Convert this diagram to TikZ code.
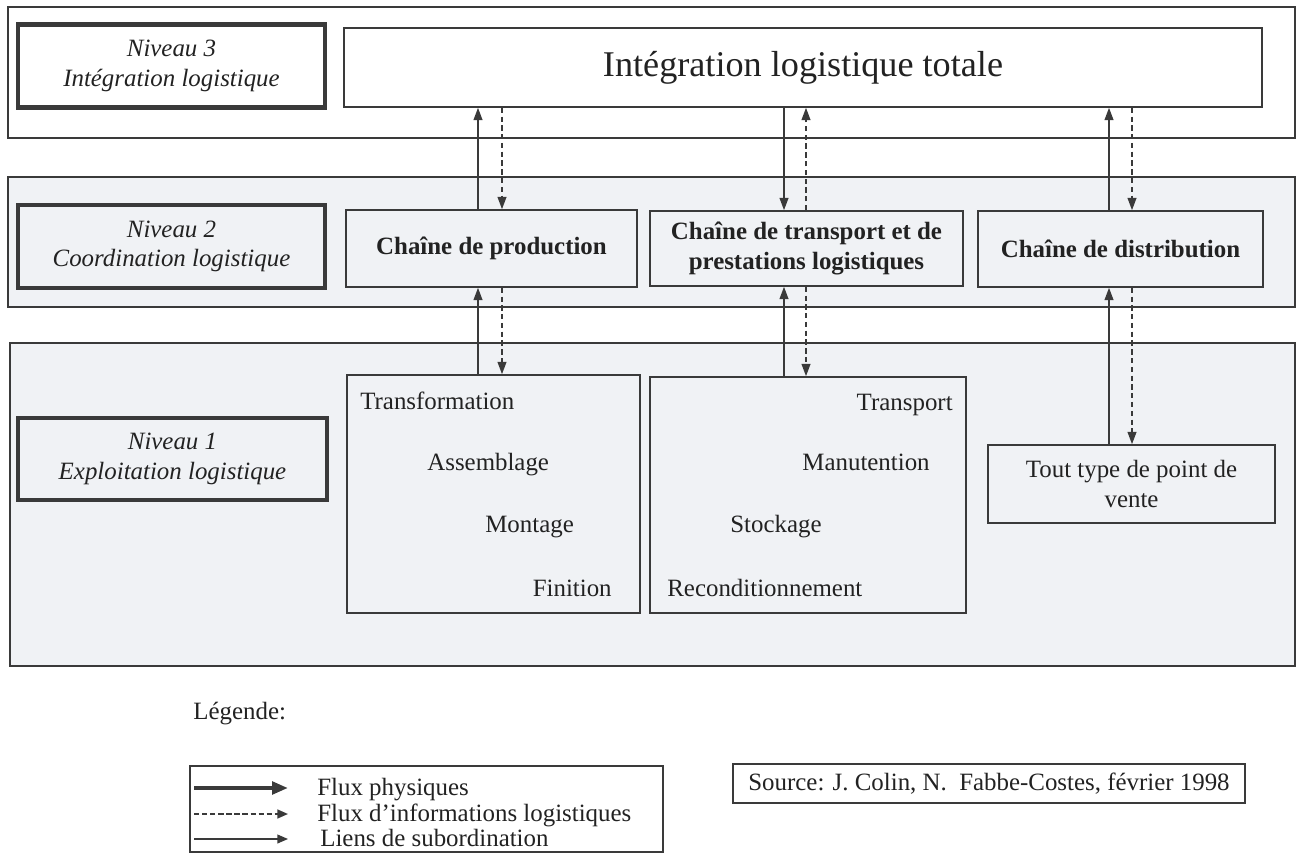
\documentclass[tikz,border=0pt]{standalone}
\usepackage{fontspec}
\setmainfont{Liberation Serif}
\usetikzlibrary{arrows.meta,fit}
\definecolor{bandfill}{HTML}{F0F2F5}
\definecolor{ink}{HTML}{222222}
\definecolor{lineg}{HTML}{3A3A3A}
\begin{document}
\begin{tikzpicture}[x=0.02cm,y=-0.02cm,
  font=\fontsize{14.17}{16.8}\selectfont, text=ink,
  band/.style={draw=lineg, line width=1pt, inner sep=0pt},
  lvl/.style={draw=lineg, line width=2.6pt, inner sep=0pt, align=center,
    font=\itshape\fontsize{14.17}{16.8}\selectfont},
  boxw/.style={draw=lineg, line width=0.9pt, inner sep=0pt, align=center},
  chain/.style={boxw, fill=bandfill, font=\bfseries\fontsize{14.17}{16.8}\selectfont},
  phys/.style={draw=lineg, line width=0.9pt, -{Triangle[length=7pt,width=5pt]}},
  info/.style={draw=lineg, line width=0.9pt, dash pattern=on 3pt off 2pt, -{Triangle[length=7pt,width=5pt]}},
  optxt/.style={inner sep=0pt}
]
\useasboundingbox (0,0) rectangle (1298,854);
% bands
\node[band, fit={(8,7) (1295,138)}] (band3) {};
\node[band, fill=bandfill, fit={(8,177) (1295,307)}] (band2) {};
\node[band, fill=bandfill, fit={(10,343) (1295,666)}] (band1) {};
% level labels
\node[lvl, fill=white, minimum width=6.14cm, minimum height=1.66cm] (niv3) at (171.5,66) {Niveau 3\\Intégration logistique};
\node[lvl, fill=bandfill, minimum width=6.14cm, minimum height=1.66cm] (niv2) at (171.5,246.5) {Niveau 2\\Coordination logistique};
\node[lvl, fill=bandfill, minimum width=6.18cm, minimum height=1.64cm] (niv1) at (172.5,459) {Niveau 1\\Exploitation logistique};
% level 3
\node[boxw, fill=white, minimum width=18.36cm, minimum height=1.58cm, font=\fontsize{20.6}{24}\selectfont] (integ) at (803,67.5) {Intégration logistique totale};
% level 2
\node[chain, minimum width=5.82cm, minimum height=1.54cm] (prod) at (491.5,248.5) {Chaîne de production};
\node[chain, minimum width=6.26cm, minimum height=1.50cm] (trans) at (806.5,248.5) {Chaîne de transport et de\\prestations logistiques};
\node[chain, minimum width=5.70cm, minimum height=1.52cm] (distr) at (1120.5,249) {Chaîne de distribution};
% level 1
\node[boxw, fill=bandfill, fit={(347,375) (640,613)}] (boxA) {};
\node[boxw, fill=bandfill, fit={(650,377) (966,613)}] (boxB) {};
\node[boxw, fill=bandfill, minimum width=5.74cm, minimum height=1.56cm] (pv) at (1131.5,484) {Tout type de point de\\vente};
\node[optxt, anchor=base west] (t1) at (360,410) {Transformation};
\node[optxt, anchor=base west] (t2) at (427,471) {Assemblage};
\node[optxt, anchor=base west] (t3) at (485,533) {Montage};
\node[optxt, anchor=base east] (t4) at (612,596) {Finition};
\node[optxt, anchor=base east] (u1) at (953,411) {Transport};
\node[optxt, anchor=base east] (u2) at (930,471) {Manutention};
\node[optxt, anchor=base west] (u3) at (730,533) {Stockage};
\node[optxt, anchor=base west] (u4) at (667,596) {Reconditionnement};
% arrow columns
\coordinate (a1) at (478,0);
\coordinate (a2) at (502,0);
\coordinate (b1) at (784,0);
\coordinate (b2) at (806,0);
\coordinate (c1) at (1109,0);
\coordinate (c2) at (1132,0);
% level 2 <-> level 3
\draw[phys] (prod.north -| a1) -- (integ.south -| a1);
\draw[info] (integ.south -| a2) -- (prod.north -| a2);
\draw[phys] (integ.south -| b1) -- (trans.north -| b1);
\draw[info] (trans.north -| b2) -- (integ.south -| b2);
\draw[phys] (distr.north -| c1) -- (integ.south -| c1);
\draw[info] (integ.south -| c2) -- (distr.north -| c2);
% level 1 <-> level 2
\draw[phys] (boxA.north -| a1) -- (prod.south -| a1);
\draw[info] (prod.south -| a2) -- (boxA.north -| a2);
\draw[phys] (boxB.north -| b1) -- (trans.south -| b1);
\draw[info] (trans.south -| b2) -- (boxB.north -| b2);
\draw[phys] (pv.north -| c1) -- (distr.south -| c1);
\draw[info] (distr.south -| c2) -- (pv.north -| c2);
% legend
\node[optxt, anchor=base west] (leg) at (193,719) {Légende:};
\node[boxw, fill=white, fit={(190,766) (663,852)}] (legbox) {};
\coordinate (l1s) at (194,788); \coordinate (l1e) at (288,788);
\coordinate (l2s) at (194,814); \coordinate (l2e) at (288,814);
\coordinate (l3s) at (194,839); \coordinate (l3e) at (288,839);
\draw[draw=lineg, line width=2.4pt, -{Triangle[length=9pt,width=7pt]}] (l1s) -- (l1e);
\draw[draw=lineg, line width=1pt, dash pattern=on 3pt off 1.6pt, -{Triangle[length=6pt,width=5pt]}] (l2s) -- (l2e);
\draw[draw=lineg, line width=0.7pt, -{Triangle[length=6pt,width=5pt]}] (l3s) -- (l3e);
\node[optxt, anchor=base west] (lt1) at (317,795) {Flux physiques};
\node[optxt, anchor=base west] (lt2) at (317,821) {Flux d’informations logistiques};
\node[optxt, anchor=base west] (lt3) at (320,846) {Liens de subordination};
% source
\node[boxw, fill=white, minimum width=10.24cm, minimum height=0.78cm] (src) at (989,783.5) {Source: J. Colin, N.\ \ Fabbe-Costes, février 1998};
\end{tikzpicture}
\end{document}
